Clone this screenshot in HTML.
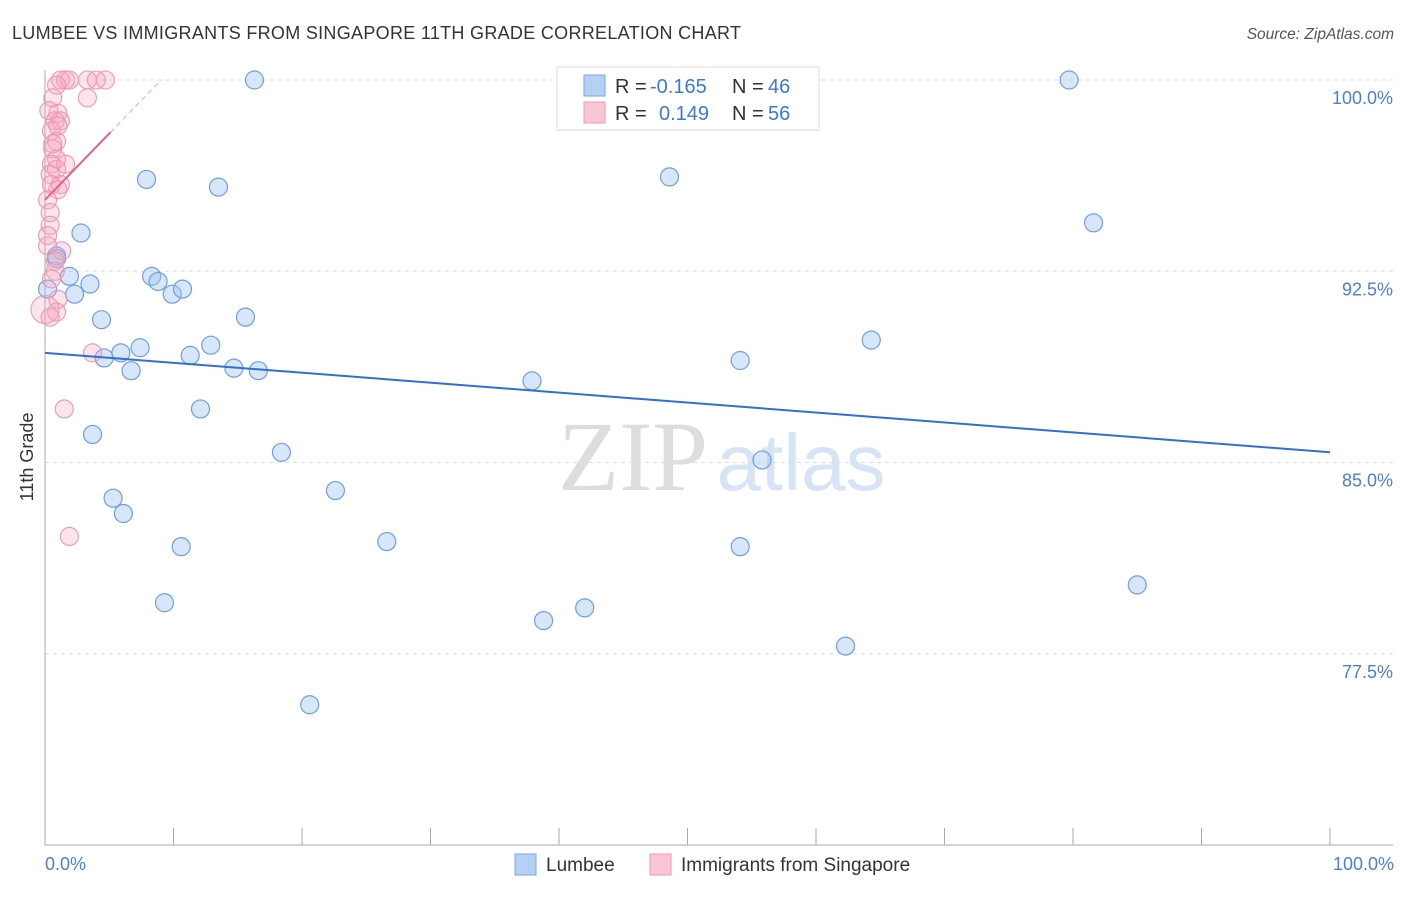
<!DOCTYPE html>
<html><head><meta charset="utf-8"><style>
body{margin:0;background:#fff;font-family:"Liberation Sans",sans-serif;}
</style></head><body>
<svg id="chart" width="1406" height="892" viewBox="0 0 1406 892" font-family="Liberation Sans, sans-serif">
<text x="12" y="39" font-size="18" fill="#333" style="letter-spacing:0.3px">LUMBEE VS IMMIGRANTS FROM SINGAPORE 11TH GRADE CORRELATION CHART</text>
<text x="1394" y="39" font-size="15.5" fill="#555" text-anchor="end" font-style="italic">Source: ZipAtlas.com</text>
<text x="633" y="490" font-size="100" fill="#ddd" text-anchor="middle" style="font-family:'Liberation Serif',serif">ZIP</text>
<text x="801" y="490" font-size="80" fill="#d6e4f5" text-anchor="middle">atlas</text>
<g id="grid"></g>
<g id="axes"></g>
<g id="pts"></g>
<g id="trend"></g>
<text transform="translate(33,457) rotate(-90)" font-size="18" fill="#333" text-anchor="middle">11th Grade</text>
<text x="45" y="870" font-size="18" fill="#4a7fd4">0.0%</text>
<text x="1394" y="870" font-size="18" fill="#4a7fd4" text-anchor="end">100.0%</text>
<g>
<rect x="557" y="67" width="262" height="63" fill="#fff" stroke="#ddd"/>
<rect x="584" y="75" width="21" height="21" fill="#b5d0f5" stroke="#7aa7e6"/>
<rect x="584" y="102" width="21" height="21" fill="#fac5d4" stroke="#ee9ab2"/>
<text x="615" y="93" font-size="20" fill="#333">R = </text><text x="650" y="93" font-size="20" fill="#3d78d8">-0.165</text>
<text x="732" y="93" font-size="20" fill="#333">N = </text><text x="768" y="93" font-size="20" fill="#3d78d8">46</text>
<text x="615" y="120" font-size="20" fill="#333">R = </text><text x="659" y="120" font-size="20" fill="#3d78d8">0.149</text>
<text x="732" y="120" font-size="20" fill="#333">N = </text><text x="768" y="120" font-size="20" fill="#3d78d8">56</text>
</g>
<g>
<rect x="515" y="854" width="21" height="21" fill="#b5d0f5" stroke="#7aa7e6"/>
<text x="546" y="871" font-size="19" fill="#333">Lumbee</text>
<rect x="650" y="854" width="21" height="21" fill="#fac5d4" stroke="#ee9ab2"/>
<text x="681" y="871" font-size="19" fill="#333">Immigrants from Singapore</text>
</g>
</svg>
<script>
const yTicks=[100,92.5,85,77.5];
const yTickLabels=["100.0%","92.5%","85.0%","77.5%"];
const xTicks=[0,10,20,30,40,50,60,70,80,90,100];
const lumbeeX=[16.3,79.7,7.9,13.5,48.6,81.6,2.8,0.9,1.9,3.5,8.3,8.8,9.9,10.7,2.3,4.4,15.6,7.4,5.9,4.6,6.7,11.3,12.9,14.7,16.6,37.9,54.1,64.3,12.1,3.7,18.4,55.8,5.3,6.1,22.6,10.6,26.6,54.1,9.3,85.0,38.8,42.0,62.3,20.6,0.2,0.9];
const lumbeeY=[100,100,96.1,95.8,96.2,94.4,94.0,93.1,92.3,92.0,92.3,92.1,91.6,91.8,91.6,90.6,90.7,89.5,89.3,89.1,88.6,89.2,89.6,88.7,88.6,88.2,89.0,89.8,87.1,86.1,85.4,85.1,83.6,83.0,83.9,81.7,81.9,81.7,79.5,80.2,78.8,79.3,77.8,75.5,91.8,93.0];
const singX=[1.2,1.6,1.9,3.3,4.0,4.7,3.3,0.9,0.6,1.0,0.8,1.2,0.5,0.9,0.6,0.9,0.5,0.9,1.6,0.4,0.5,1.2,1.0,0.2,0.4,0.4,0.2,1.3,0.8,0.8,0.5,1.0,0.9,0.4,3.7,1.5,1.9,0.2,0.6,1.0,0.3,0.0];
const singY=[100,100,100,100,100,100,99.3,99.8,99.3,98.7,98.4,98.4,98.0,97.6,97.3,96.9,96.7,96.5,96.7,96.3,95.9,95.9,95.7,95.3,94.8,94.3,93.9,93.3,92.9,92.5,92.2,91.4,90.9,90.7,89.3,87.1,82.1,93.5,97.5,98.2,98.8,91.0];
const lumbeeTrend=[89.3,85.4];
const singTrend=[95.3,100.5];
const NS="http://www.w3.org/2000/svg";
const X0=45,X1=1330,YTOP=80,PER=25.5;
const sx=v=>X0+(X1-X0)*v/100;
const sy=v=>YTOP+(100-v)*PER;
function mk(tag,attrs,parent){const e=document.createElementNS(NS,tag);for(const k in attrs)e.setAttribute(k,attrs[k]);parent.appendChild(e);return e;}
const grid=document.getElementById('grid'),axes=document.getElementById('axes'),pts=document.getElementById('pts'),trend=document.getElementById('trend');
yTicks.forEach((t,i)=>{
 const l=mk('line',{x1:X0,x2:1393,y1:sy(t),y2:sy(t),stroke:'#ddd','stroke-dasharray':'4,4'},grid);
 
 
 const tx=mk('text',{x:1393,y:sy(t)+24,'font-size':18,fill:'#4a7fd4','text-anchor':'end'},grid);
 tx.textContent=yTickLabels[i];
 
 
});
const ax=mk('line',{x1:X0,x2:1393,y1:845,y2:845,stroke:'#aaa'},axes);


const ay=mk('line',{x1:X0,x2:X0,y1:70,y2:845,stroke:'#aaa'},axes);


xTicks.forEach(t=>{
 const l=mk('line',{x1:sx(t),x2:sx(t),y1:828,y2:845,stroke:'#aaa'},axes);
 
 
});
lumbeeX.forEach((v,i)=>{
 const c=mk('circle',{cx:sx(v),cy:sy(lumbeeY[i]),r:9,fill:'rgba(160,196,240,0.42)',stroke:'#6d9fe0','stroke-width':1.2},pts);
 
 
});
singX.forEach((v,i)=>{
 const c=mk('circle',{cx:sx(v),cy:sy(singY[i]),r:i==singX.length-1?14:9,fill:'rgba(245,165,190,0.3)',stroke:'#ee96b0','stroke-width':1.1},pts);
 
 
});
const bl=mk('line',{x1:sx(0),y1:sy(lumbeeTrend[0]),x2:sx(100),y2:sy(lumbeeTrend[1]),stroke:'#2f6fd6','stroke-width':2},trend);


const slope=(singTrend[1]-singTrend[0])/10;
const xe=5.1, xEnd=(100-singTrend[0])/slope;
const pl=mk('line',{x1:sx(0),y1:sy(singTrend[0]),x2:sx(xe),y2:sy(singTrend[0]+slope*xe),stroke:'#e8608a','stroke-width':2},trend);


const pd=mk('line',{x1:sx(xe),y1:sy(singTrend[0]+slope*xe),x2:sx(xEnd),y2:sy(100),stroke:'#f0a0b8','stroke-width':1,'stroke-dasharray':'5,4'},trend);


</script>
</body></html>
